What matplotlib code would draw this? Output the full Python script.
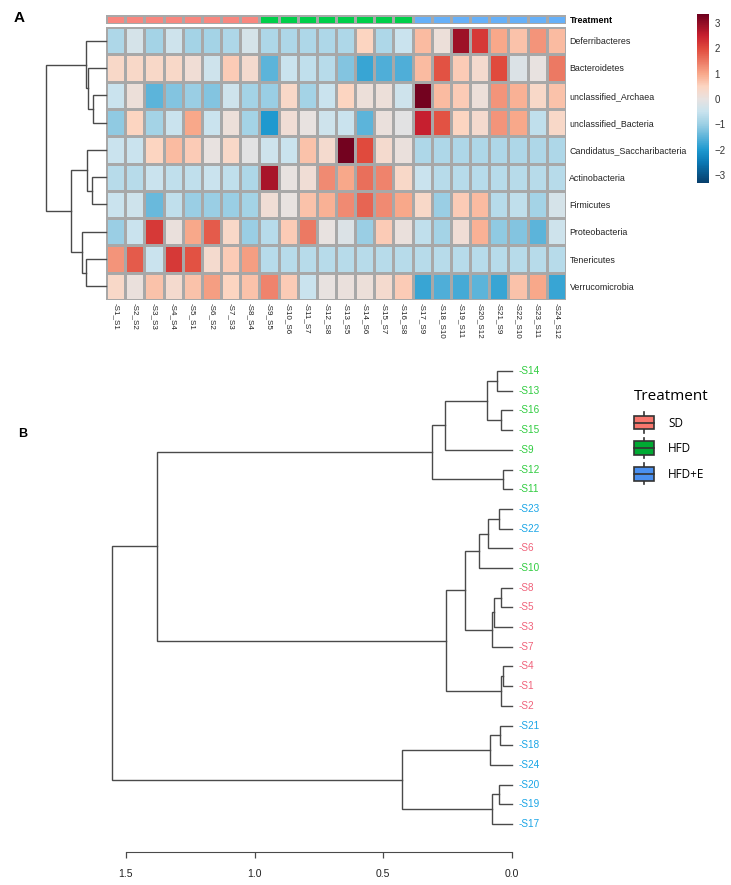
import numpy as np
import matplotlib
matplotlib.use("Agg")
from matplotlib import pyplot as plt
from matplotlib.colors import LinearSegmentedColormap, ListedColormap
from matplotlib.patches import Rectangle
from matplotlib.lines import Line2D
from matplotlib.legend_handler import HandlerBase

plt.rcParams['font.family'] = ['Liberation Sans', 'DejaVu Sans']

# samples (heatmap columns) and their treatment group
samples = ["S1_S1", "S2_S2", "S3_S3", "S4_S4", "S5_S1", "S6_S2", "S7_S3", "S8_S4",
           "S9_S5", "S10_S6", "S11_S7", "S12_S8", "S13_S5", "S14_S6", "S15_S7", "S16_S8",
           "S17_S9", "S18_S10", "S19_S11", "S20_S12", "S21_S9", "S22_S10", "S23_S11", "S24_S12"]
groups = ["SD"] * 8 + ["HFD"] * 8 + ["HFD+E"] * 8
group_names = ["SD", "HFD", "HFD+E"]

phyla = ["Deferribacteres", "Bacteroidetes", "unclassified_Archaea", "unclassified_Bacteria",
         "Candidatus_Saccharibacteria", "Actinobacteria", "Firmicutes", "Proteobacteria",
         "Tenericutes", "Verrucomicrobia"]

# z-scores (one list per phylum)
deferribacteres = [-0.8, -0.3, -0.9, -0.4, -0.9, -0.9, -0.8, -0.3, -0.8, -0.8, -0.8, -0.8,
                   -0.8, 0.5, -0.8, -0.5, 0.8, 0.1, 2.9, 2.2, 1.0, 0.7, 1.2, 0.8]
bacteroidetes = [0.4, 0.4, 0.4, 0.4, 0.2, -0.4, 0.6, 0.3, -1.5, -0.5, -0.6, -0.7,
                 -1.2, -1.8, -1.6, -1.6, 0.8, 1.9, 0.6, 0.3, 2.0, -0.2, 0.0, 1.5]
uncl_archaea = [-0.5, 0.1, -1.5, -1.2, -1.0, -1.2, -0.4, -0.9, -1.0, 0.4, -0.9, -0.5,
                0.5, 0.1, 0.1, -0.4, 3.3, 0.8, 0.6, 0.1, 1.2, 0.9, 0.4, 0.7]
uncl_bacteria = [-1.1, 0.5, -0.9, -0.5, 1.0, -0.5, 0.1, -0.9, -2.0, 0.2, 0.0, -0.4,
                 -0.5, -1.5, 0.05, -0.1, 2.5, 1.9, 0.5, 0.3, 1.2, 1.0, -0.6, 0.4]
saccharibacteria = [-0.5, -0.5, 0.5, 0.8, 0.6, 0.0, 0.4, -0.1, -0.4, -0.5, 0.7, 0.3,
                    3.3, 2.0, 0.3, 0.05, -0.8, -0.8, -0.8, -0.8, -0.8, -0.8, -0.8, -0.8]
actinobacteria = [-0.7, -0.7, -0.5, -0.6, -0.6, -0.5, -0.6, -0.8, 2.8, 0.0, 0.2, 1.3,
                  1.0, 1.6, 1.4, 0.4, -0.5, -0.7, -0.7, -0.7, -0.7, -0.7, -0.7, -0.7]
firmicutes = [-0.5, -0.4, -1.4, -0.6, -1.0, -1.0, -1.0, -0.9, 0.2, 0.0, 0.7, 0.9,
              1.3, 1.7, 1.3, 1.0, 0.4, -1.0, 0.6, 0.8, -0.7, -0.6, -0.9, -0.3]
proteobacteria = [-1.0, -0.5, 2.2, 0.05, 1.0, 1.8, 0.4, -1.0, -0.7, 0.6, 1.5, 0.0,
                  -0.2, -1.0, 0.6, 0.05, -0.6, -0.9, 0.2, 0.9, -1.1, -1.2, -1.5, -0.4]
tenericutes = [1.2, 1.8, -0.5, 2.2, 1.9, 0.3, 0.6, 1.1, -0.7, -0.7, -0.7, -0.7,
               -0.7, -0.7, -0.7, -0.7, -0.7, -0.7, -0.7, -0.7, -0.7, -0.7, -0.7, -0.7]
verrucomicrobia = [0.4, 0.05, 0.7, 0.3, 0.7, 1.1, 0.5, 0.7, 1.4, 0.6, -0.5, 0.0,
                   0.05, 0.1, 0.3, 0.6, -1.8, -1.6, -1.7, -1.5, -1.8, 0.7, 1.0, -1.8]

heat = np.array([deferribacteres, bacteroidetes, uncl_archaea, uncl_bacteria, saccharibacteria,
                 actinobacteria, firmicutes, proteobacteria, tenericutes, verrucomicrobia])

# row clustering of panel A: (height, left, right)
row_tree = (60,
            (20, "Deferribacteres", (18, "Bacteroidetes", (13, "unclassified_Archaea", "unclassified_Bacteria"))),
            (35, (19, "Candidatus_Saccharibacteria", (14, "Actinobacteria", "Firmicutes")),
                 (24, "Proteobacteria", (20, "Tenericutes", "Verrucomicrobia"))))

# sample clustering of panel B
sample_tree = (1.554,
               (1.379,
                (0.311,
                 (0.260, (0.097, (0.058, "S14", "S13"), (0.043, "S16", "S15")), "S9"),
                 (0.035, "S12", "S11")),
                (0.256,
                 (0.183,
                  (0.128, (0.093, (0.050, "S23", "S22"), "S6"), "S10"),
                  (0.078, (0.070, (0.043, "S8", "S5"), "S3"), "S7")),
                 (0.043, (0.035, "S4", "S1"), "S2"))),
               (0.427,
                (0.085, (0.047, "S21", "S18"), "S24"),
                (0.078, (0.050, "S20", "S19"), "S17")))

bar_colors = ["#F8877F", "#00CF4A", "#66B0F8"]
label_colors = {"SD": "#F0627A", "HFD": "#30CC40", "HFD+E": "#1AA5E6"}
key_colors = ["#F8766D", "#00AA33", "#4A90F0"]
line_col = "#4a4a4a"

vmin, vmax = -3.32, 3.36
anchors = [(-3.32, "#083F6C"), (-2.5, "#0B79B5"), (-2.0, "#1F9AD0"), (-1.0, "#9CCFE4"),
           (-0.5, "#C9E3EE"), (0.0, "#E8E2E0"), (0.5, "#FCD5C2"), (1.0, "#F8A88A"),
           (2.0, "#E04A3D"), (2.5, "#C8202F"), (3.36, "#6E001E")]
cmap = LinearSegmentedColormap.from_list("zs", [((v - vmin) / (vmax - vmin), c) for v, c in anchors])


def leaves(node):
    if isinstance(node, str):
        return [node]
    return leaves(node[1]) + leaves(node[2])


def draw_tree(ax, node, pos):
    # height on x, leaf position on y
    if isinstance(node, str):
        return pos[node], 0.0
    h = node[0]
    pl, hl = draw_tree(ax, node[1], pos)
    pr, hr = draw_tree(ax, node[2], pos)
    ax.plot([hl, h, h, hr], [pl, pl, pr, pr], color=line_col, lw=1.0, clip_on=False,
            solid_joinstyle='miter')
    return (pl + pr) / 2, h


W, H = 731, 885
fig = plt.figure(figsize=(W / 100, H / 100), dpi=100)


def box(x0, y0, x1, y1):
    return [x0 / W, 1 - y1 / H, (x1 - x0) / W, (y1 - y0) / H]


# ---------- panel A ----------
ax_h = fig.add_axes(box(106, 27, 566, 300))
mesh = ax_h.pcolormesh(heat, cmap=cmap, vmin=vmin, vmax=vmax, edgecolors="#A8A8A8", linewidth=0.8)
ax_h.set_xlim(0, len(samples))
ax_h.set_ylim(len(phyla), 0)
ax_h.set_xticks(np.arange(len(samples)) + 0.5)
ax_h.set_xticklabels(["-" + s for s in samples], rotation=-90, fontsize=5.8, va="top", color="#222222")
ax_h.set_yticks(np.arange(len(phyla)) + 0.5)
ax_h.set_yticklabels(phyla, fontsize=6.4, color="#222222")
ax_h.yaxis.tick_right()
ax_h.tick_params(length=0, pad=2.5)
for s in ax_h.spines.values():
    s.set_visible(False)

ax_t = fig.add_axes(box(106, 15, 566, 24))
gidx = np.array([[group_names.index(g) for g in groups]])
ax_t.pcolormesh(gidx, cmap=ListedColormap(bar_colors), vmin=-0.5, vmax=2.5,
                edgecolors="#A8A8A8", linewidth=0.8)
ax_t.set_xlim(0, len(samples))
ax_t.set_xticks([])
ax_t.set_yticks([0.5])
ax_t.set_yticklabels(["Treatment"], fontsize=6.4, fontweight="bold")
ax_t.yaxis.tick_right()
ax_t.tick_params(length=0, pad=2.5)
for s in ax_t.spines.values():
    s.set_visible(False)

ax_rd = fig.add_axes(box(46, 27, 106, 300))
row_pos = {p: i + 0.5 for i, p in enumerate(leaves(row_tree))}
draw_tree(ax_rd, row_tree, row_pos)
ax_rd.set_xlim(row_tree[0], 0)
ax_rd.set_ylim(len(phyla), 0)
ax_rd.axis("off")

cax = fig.add_axes(box(697, 14, 709, 183))
cb = fig.colorbar(mesh, cax=cax)
cb.outline.set_visible(False)
cb.set_ticks([-3, -2, -1, 0, 1, 2, 3])
cax.tick_params(length=0, labelsize=7, pad=4, labelcolor="#333333")

fig.text(14 / W, 1 - 18 / H, "A", fontsize=11, fontweight="bold", va="center", ha="left")

# ---------- panel B ----------
order_b = leaves(sample_tree)
ax_b = fig.add_axes(box(100, 360, 512, 852))
pos_b = {s: i for i, s in enumerate(order_b)}
draw_tree(ax_b, sample_tree, pos_b)
ax_b.set_xlim(1.6006, 0)
ax_b.set_ylim(24.42, -0.56)
for s in order_b:
    n = int(s[1:])
    g = "SD" if n <= 8 else ("HFD" if n <= 16 else "HFD+E")
    ax_b.annotate("-" + s, xy=(0, pos_b[s]), xytext=(5, 0), textcoords="offset points",
                  va="center", ha="left", fontsize=7.2, color=label_colors[g])
for side in ["left", "top", "right"]:
    ax_b.spines[side].set_visible(False)
ax_b.spines["bottom"].set_bounds(0, 1.5)
ax_b.spines["bottom"].set_color(line_col)
ax_b.set_yticks([])
ax_b.set_xticks([1.5, 1.0, 0.5, 0.0])
ax_b.set_xticklabels(["1.5", "1.0", "0.5", "0.0"])
ax_b.tick_params(axis="x", length=4.5, width=0.9, color=line_col, labelsize=7.5, pad=8,
                 labelcolor="#222222")

fig.text(18 / W, 1 - 434 / H, "B", fontsize=9, fontweight="bold", va="center", ha="left")


class BoxKey(HandlerBase):
    def create_artists(self, legend, orig, xd, yd, width, height, fontsize, trans):
        x0, y0 = -xd, -yd
        cx = x0 + width / 2
        whisk = Line2D([cx, cx], [y0 - 2.5, y0 + height + 2.5], color="#333333", lw=1.2, transform=trans)
        rect = Rectangle((x0, y0), width, height, facecolor=orig.get_facecolor(),
                         edgecolor="#333333", lw=1.2, transform=trans)
        mid = Line2D([x0, x0 + width], [y0 + height / 2] * 2, color="#333333", lw=1.2, transform=trans)
        return [whisk, rect, mid]


handles = [Rectangle((0, 0), 1, 1, facecolor=c) for c in key_colors]
leg = fig.legend(handles, group_names, title="Treatment", loc="upper left",
                 bbox_to_anchor=(634 / W, 1 - 389 / H), frameon=False, fontsize=8.5,
                 title_fontsize=11, handler_map={Rectangle: BoxKey()},
                 handlelength=1.7, handleheight=1.4, labelspacing=1.0, handletextpad=1.2,
                 borderpad=0, borderaxespad=0, alignment="left")
leg.get_title().set_family(["Open Sans", "DejaVu Sans"])
for t in leg.get_texts():
    t.set_family(["Open Sans", "DejaVu Sans"])

fig.savefig("out.png", dpi=100)
